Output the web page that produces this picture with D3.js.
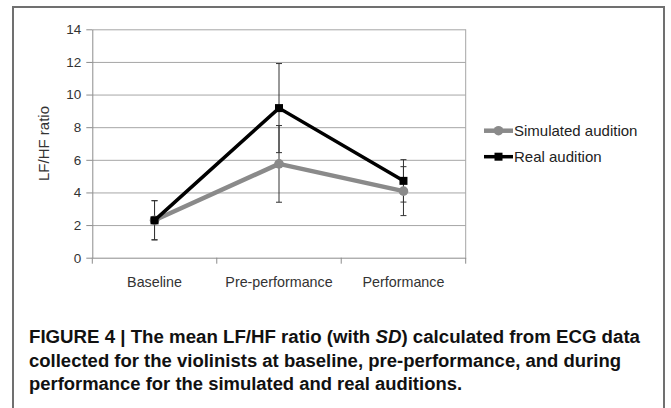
<!DOCTYPE html>
<html>
<head>
<meta charset="utf-8">
<script src="https://cdn.jsdelivr.net/npm/d3@7"></script>
<style>
  html, body { margin: 0; padding: 0; background: #fff; }
  svg { display: block; }
  text { font-family: "Liberation Sans", Arial, sans-serif; }
</style>
</head>
<body>
<svg id="chart" width="671" height="408"></svg>
<script>
// ---- data ----
const categories = ["Baseline", "Pre-performance", "Performance"];
const simulatedMean = [2.3, 5.75, 4.08];
const simulatedSD = [1.2, 2.35, 1.5];
const realMean = [2.29, 9.17, 4.71];
const realSD = [1.2, 2.73, 1.3];
const yTicks = [0, 2, 4, 6, 8, 10, 12, 14];
const seriesNames = ["Simulated audition", "Real audition"];
const captionLines = [
  [["FIGURE 4 | The mean LF/HF ratio (with ", false], ["SD", true], [") calculated from ECG data", false]],
  [["collected for the violinists at baseline, pre-performance, and during", false]],
  [["performance for the simulated and real auditions.", false]]
];

// ---- layout ----
const svg = d3.select("#chart");
const pLeft = 92.3, pRight = 465.7, pTop = 29.3, pBottom = 257.7;

const x = d3.scaleBand().domain(categories).range([pLeft, pRight]).padding(0);
const y = d3.scaleLinear().domain([0, 14]).range([pBottom, pTop]);
const cx = c => x(c) + x.bandwidth() / 2;

// frame
svg.append("path")
  .attr("d", `M13,410 L13,7 L664,7 L664,410`)
  .attr("fill", "none").attr("stroke", "#707070").attr("stroke-width", 2);

// gridlines
svg.append("g")
  .attr("transform", `translate(${pLeft},0)`)
  .call(d3.axisLeft(y).tickValues(yTicks.filter(v => v > 0)).tickSize(-(pRight - pLeft)).tickFormat(""))
  .call(g => g.select(".domain").remove())
  .call(g => g.selectAll("line").attr("stroke", "#a6a6a6").attr("stroke-width", 1));

// right border of plot
svg.append("line")
  .attr("x1", pRight).attr("x2", pRight).attr("y1", y(14)).attr("y2", y(0))
  .attr("stroke", "#a6a6a6").attr("stroke-width", 1);

// y axis
svg.append("g")
  .attr("transform", `translate(${pLeft},0)`)
  .call(d3.axisLeft(y).tickValues(yTicks).tickSize(6).tickSizeOuter(0).tickPadding(5))
  .call(g => g.select(".domain").attr("stroke", "#8c8c8c"))
  .call(g => g.selectAll(".tick line").attr("stroke", "#8c8c8c"))
  .call(g => g.selectAll("text").attr("font-size", 13.5).attr("fill", "#333")
    .attr("font-family", "Liberation Sans, Arial, sans-serif"));

// x axis
svg.append("g")
  .attr("transform", `translate(0,${pBottom})`)
  .call(d3.axisBottom(x).tickSize(0).tickPadding(19).tickSizeOuter(0))
  .call(g => g.select(".domain").attr("stroke", "#8c8c8c"))
  .call(g => g.selectAll("text").attr("font-size", 14.3).attr("fill", "#333")
    .attr("font-family", "Liberation Sans, Arial, sans-serif"));

// boundary ticks on x axis
const bounds = categories.map(c => x(c)).concat([x.range()[1]]);
svg.append("g").selectAll("line").data(bounds).join("line")
  .attr("x1", d => d).attr("x2", d => d)
  .attr("y1", pBottom).attr("y2", pBottom + 6)
  .attr("stroke", "#8c8c8c");

// y axis title
svg.append("text")
  .attr("transform", `translate(49,${(pTop + pBottom) / 2}) rotate(-90)`)
  .attr("text-anchor", "middle")
  .attr("font-size", 15).attr("fill", "#333")
  .text("LF/HF ratio");

// error bars
function errorBars(means, sds) {
  const g = svg.append("g").attr("stroke", "#333").attr("stroke-width", 1);
  categories.forEach((c, i) => {
    const xc = cx(c), y1 = y(means[i] + sds[i]), y2 = y(means[i] - sds[i]);
    g.append("line").attr("x1", xc).attr("x2", xc).attr("y1", y1).attr("y2", y2);
    g.append("line").attr("x1", xc - 3).attr("x2", xc + 3).attr("y1", y1).attr("y2", y1);
    g.append("line").attr("x1", xc - 3).attr("x2", xc + 3).attr("y1", y2).attr("y2", y2);
  });
}
errorBars(simulatedMean, simulatedSD);
errorBars(realMean, realSD);

const line = d3.line().x((d, i) => cx(categories[i])).y(d => y(d));

// simulated series
svg.append("path").datum(simulatedMean)
  .attr("d", line).attr("fill", "none").attr("stroke", "#8a8a8a").attr("stroke-width", 4.5)
  .attr("stroke-linejoin", "round");
svg.append("g").selectAll("circle").data(simulatedMean).join("circle")
  .attr("cx", (d, i) => cx(categories[i])).attr("cy", d => y(d)).attr("r", 4.8)
  .attr("fill", "#8a8a8a");

// real series
svg.append("path").datum(realMean)
  .attr("d", line).attr("fill", "none").attr("stroke", "#000").attr("stroke-width", 3.5)
  .attr("stroke-linejoin", "miter");
svg.append("g").selectAll("rect").data(realMean).join("rect")
  .attr("x", (d, i) => cx(categories[i]) - 4).attr("y", d => y(d) - 4)
  .attr("width", 8).attr("height", 8).attr("fill", "#000");

// legend
const legend = svg.append("g");
const legY = [130.7, 156.7];
const legX0 = 484, legX1 = 513;
legend.append("line").attr("x1", legX0).attr("x2", legX1).attr("y1", legY[0]).attr("y2", legY[0])
  .attr("stroke", "#8a8a8a").attr("stroke-width", 4.5);
legend.append("circle").attr("cx", (legX0 + legX1) / 2).attr("cy", legY[0]).attr("r", 4.8).attr("fill", "#8a8a8a");
legend.append("line").attr("x1", legX0).attr("x2", legX1).attr("y1", legY[1]).attr("y2", legY[1])
  .attr("stroke", "#000").attr("stroke-width", 3.5);
legend.append("rect").attr("x", (legX0 + legX1) / 2 - 4).attr("y", legY[1] - 4).attr("width", 8).attr("height", 8).attr("fill", "#000");
legend.selectAll("text").data(seriesNames).join("text")
  .attr("x", legX1 + 1).attr("y", (d, i) => legY[i] + 5)
  .attr("font-size", 15).attr("fill", "#222")
  .text(d => d);

// caption
const capBase = [343.3, 366.7, 390];
const capLen = [611, 592, 433];
captionLines.forEach((parts, i) => {
  const t = svg.append("text")
    .attr("x", 29).attr("y", capBase[i])
    .attr("font-size", 18).attr("font-weight", "bold").attr("fill", "#111")
    .attr("textLength", capLen[i]).attr("lengthAdjust", "spacingAndGlyphs");
  parts.forEach(([s, it]) => {
    t.append("tspan").attr("font-style", it ? "italic" : "normal").text(s);
  });
});
</script>
</body>
</html>
